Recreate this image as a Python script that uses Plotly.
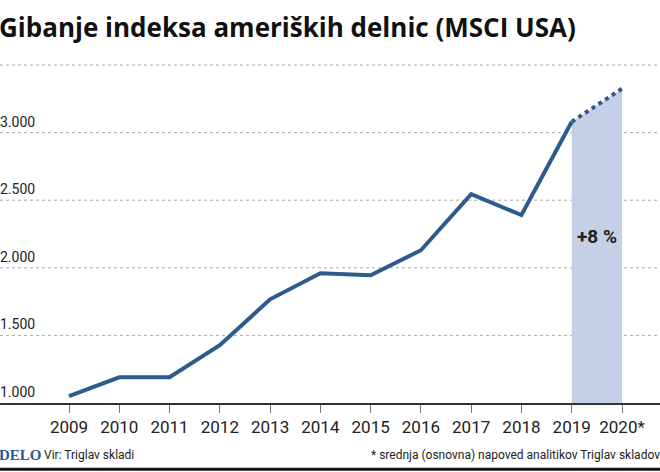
import plotly.graph_objects as go

years = [2009, 2010, 2011, 2012, 2013, 2014, 2015, 2016, 2017, 2018, 2019]
values = [1050, 1190, 1190, 1427, 1767, 1960, 1945, 2130, 2545, 2390, 3080]
forecast_years = [2019, 2020]
forecast_values = [3080, 3325]
tick_labels = [str(y) for y in range(2009, 2020)] + ["2020*"]
y_grid = [1000, 1500, 2000, 2500, 3000, 3500]
y_labels = ["1.000", "1.500", "2.000", "2.500", "3.000", ""]

blue = "#2e5b8e"
fig = go.Figure()
fig.add_trace(go.Scatter(x=forecast_years, y=forecast_values, mode="lines",
                         line=dict(width=0), fill="tozeroy", fillcolor="#c5cfe6",
                         hoverinfo="skip"))
fig.add_trace(go.Scatter(x=years, y=values, mode="lines",
                         line=dict(color=blue, width=4)))
fig.add_trace(go.Scatter(x=forecast_years, y=forecast_values, mode="lines",
                         line=dict(color=blue, width=4, dash="dot")))

for v, lab in zip(y_grid, y_labels):
    if v > 1000:
        fig.add_shape(type="line", xref="paper", x0=0, x1=1, y0=v, y1=v,
                      line=dict(color="#aaaaaa", width=1, dash="dot"), layer="below")
    if lab:
        fig.add_annotation(text=lab, xref="paper", x=0, y=v, xanchor="left", yanchor="bottom",
                           showarrow=False, yshift=1, xshift=-2, font=dict(size=14, color="#222"))

fig.add_annotation(text="<b>+8 %</b>", x=2019.5, y=2230, showarrow=False,
                   font=dict(size=19, color="#222"))

fig.add_annotation(text="<b>Gibanje indeksa ameriških delnic (MSCI USA)</b>", xref="paper", yref="paper",
                   x=0, y=1, yshift=53, xshift=-3, xanchor="left", yanchor="top", showarrow=False,
                   font=dict(size=26, color="#111", family="Open Sans"))
fig.add_annotation(text="<b>DELO</b>", xref="paper", yref="paper", x=0, y=0, yshift=-42, xshift=-3,
                   xanchor="left", yanchor="top", showarrow=False,
                   font=dict(size=15, color="#2e5b8e", family="Liberation Serif"))
fig.add_annotation(text="Vir: Triglav skladi", xref="paper", yref="paper", x=0, y=0, yshift=-43, xshift=42,
                   xanchor="left", yanchor="top", showarrow=False, font=dict(size=12, color="#222"))
fig.add_annotation(text="* srednja (osnovna) napoved analitikov Triglav skladov", xref="paper", yref="paper",
                   x=1, y=0, yshift=-43, xshift=2, xanchor="right", yanchor="top", showarrow=False,
                   font=dict(size=12, color="#222"))
fig.add_shape(type="line", xref="paper", yref="paper", x0=0, x1=1, y0=-0.193, y1=-0.193,
              line=dict(color="#111", width=3))

fig.update_layout(
    width=660, height=472, margin=dict(l=0, r=0, t=60, b=69, autoexpand=False),
    plot_bgcolor="white", paper_bgcolor="white", showlegend=False,
    font=dict(family="Roboto", color="#222"),
    xaxis=dict(range=[2007.627, 2020.756], tickvals=list(range(2009, 2021)), ticktext=tick_labels,
               ticks="outside", ticklen=8, tickcolor="#777", showgrid=False, showline=True, automargin=False,
               linecolor="#333", linewidth=1.5, tickfont=dict(size=17, color="#222"), zeroline=False),
    yaxis=dict(range=[1000, 3537], showticklabels=False, showgrid=False, zeroline=False, automargin=False),
)
fig.write_html("out.html", config={"displayModeBar": False},
               post_script="document.body.style.margin='0';document.body.style.overflow='hidden';")
